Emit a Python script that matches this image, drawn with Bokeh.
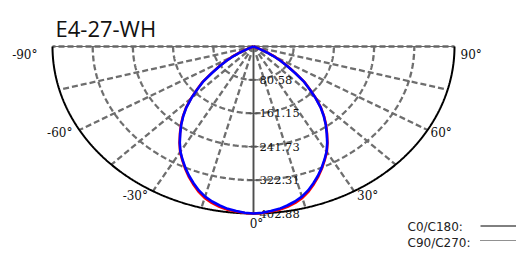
import numpy as np
from bokeh.plotting import figure
from bokeh.models import Range1d
from bokeh.core.properties import value
from bokeh.embed import file_html
from bokeh.resources import INLINE

# ---------------- data ----------------
title_text = "E4-27-WH"
angles = [0, 2.5, 5, 7.5, 10, 12.5, 15, 17.5, 20, 22.5, 25, 27.5, 30, 32.5, 35, 37.5,
          40, 42.5, 45, 47.5, 50, 52.5, 55, 57.5, 60, 62.5, 65, 67.5, 70, 75, 80, 85, 90]
c0_c180 = [402.88, 401.5, 398.5, 395.0, 389.5, 383.0, 374.8, 364.0, 351.0, 337.5,
           323.0, 308.0, 293.0, 275.0, 256.0, 238.0, 219.0, 199.0, 176.0, 152.0,
           132.0, 105.0, 83.0, 64.0, 46.0, 28.0, 8.0, 0.0, 0.0, 0.0, 0.0, 0.0, 0.0]
c90_c270 = [402.88, 402.0, 399.5, 397.0, 392.5, 386.5, 378.3, 367.0, 353.5, 339.5,
            324.5, 309.0, 294.0, 276.0, 257.0, 239.0, 220.0, 200.0, 177.0, 153.5,
            133.5, 106.5, 84.5, 66.0, 49.0, 31.0, 11.0, 0.0, 0.0, 0.0, 0.0, 0.0, 0.0]
ring_values = [80.58, 161.15, 241.73, 322.31, 402.88]
ring_labels = ["80.58", "161.15", "241.73", "322.31", "402.88"]
angle_ticks = [-90, -60, -30, 0, 30, 60, 90]
angle_labels = ["-90°", "-60°", "-30°", "0°", "30°", "60°", "90°"]
grid_angles = [-90, -75, -60, -45, -30, -15, 0, 15, 30, 45, 60, 75, 90]
legend_names = ["C0/C180:", "C90/C270:"]

# ---------------- layout / style ----------------
W, H = 516, 253
CX, CY = 253.0, 46.0        # centre of the diagram, canvas px
RX, RY = 201.0, 167.0       # outer radius in px (horizontal / vertical)
RMAX = ring_values[-1]
sx = RX / RMAX
sy = RY / RMAX

def to_data(px, py):
    return (px - CX) / sx, (CY - py) / sy

def polar(r, deg):
    t = np.radians(np.asarray(deg, dtype=float))
    r = np.asarray(r, dtype=float)
    return r * np.sin(t), -r * np.cos(t)

p = figure(width=W, height=H, output_backend="svg", toolbar_location=None,
           x_range=Range1d(-CX / sx, (W - CX) / sx),
           y_range=Range1d(-(H - CY) / sy, CY / sy),
           min_border=0, outline_line_color=None,
           x_axis_type=None, y_axis_type=None)
p.grid.visible = False
p.background_fill_color = "white"
p.border_fill_color = "white"

GRAY = "#6e6e6e"
SERIF = value("DejaVu Serif")

# rings (dashed)
th = np.linspace(-90, 90, 721)
rx_list, ry_list = [], []
for rv in ring_values[:-1]:
    x, y = polar(np.full_like(th, rv), th)
    rx_list.append(list(x)); ry_list.append(list(y))
p.multi_line(rx_list, ry_list, line_color=GRAY, line_width=2.3, line_dash="6 3")

# radial spokes
sp_x, sp_y = [], []
for a in grid_angles:
    if a == 0:
        continue
    x, y = polar([0, RMAX], [a, a])
    sp_x.append(list(x)); sp_y.append(list(y))
p.multi_line(sp_x, sp_y, line_color=GRAY, line_width=2.3, line_dash="6 3")

# top axis line and 0° axis line
x, y = polar([RMAX, RMAX], [-90, 90])
p.line(list(x), list(y), line_color="#666666", line_width=1)
x, y = polar([0, RMAX], [0, 0])
p.line(list(x), list(y), line_color="#777777", line_width=2.2)
p.line(list(x), list(y), line_color="#333333", line_width=0.6)

# ring ticks on the 0° axis
tick_half = 5 / sx
p.segment(x0=[-tick_half] * len(ring_values), x1=[tick_half] * len(ring_values),
          y0=[-v for v in ring_values], y1=[-v for v in ring_values],
          line_color="#555555", line_width=1.2)

# outer arc
x, y = polar(np.full_like(th, RMAX), th)
p.line(list(x), list(y), line_color="black", line_width=2)

# ring labels
lx = [6 / sx] * len(ring_values)
ly = [-v for v in ring_values]
p.text(lx, ly, text=ring_labels, text_font=SERIF, text_font_size="11.5px",
       text_color="#111111", text_baseline="middle", text_align="left")

# angle labels
lab_dx = [-15, -7, -5, 3, 3, 3, 6]
lab_dy = [8, 3, 5, 10, 5, 3, 8]
ax_pts, ay_pts = polar([RMAX] * len(angle_ticks), angle_ticks)
for i, (lab, a) in enumerate(zip(angle_labels, angle_ticks)):
    align = "right" if a < 0 else ("center" if a == 0 else "left")
    px = CX + ax_pts[i] * sx + lab_dx[i]
    py = CY - ay_pts[i] * sy + lab_dy[i]
    dx, dy = to_data(px, py)
    p.text([dx], [dy], text=[lab], text_font=SERIF, text_font_size="12px",
           text_color="#111111", text_baseline="middle", text_align=align)

# curves
def full_curve(vals):
    th_full = [-a for a in angles[::-1]] + angles[1:]
    r_full = vals[::-1] + vals[1:]
    return polar(r_full, th_full)

x, y = full_curve(c90_c270)
p.line(list(x), list(y), line_color="#ff0000", line_width=2.6, line_join="round")
x, y = full_curve(c0_c180)
p.line(list(x), list(y), line_color="#0000ff", line_width=2.6, line_join="round")

# title
tx, ty = to_data(55, 27)
p.text([tx], [ty], text=[title_text], text_font=value("Open Sans"),
       text_font_size="22px", text_color="#111111",
       text_baseline="alphabetic", text_align="left")

# legend
leg_y_text = [226, 242]
leg_y_line = [225.5, 240]
for i, name in enumerate(legend_names):
    tx, ty = to_data(407, leg_y_text[i])
    p.text([tx], [ty], text=[name], text_font=value("DejaVu Sans"),
           text_font_size="12px", text_color="#222222",
           text_baseline="middle", text_align="left")
    x0, yl = to_data(480, leg_y_line[i])
    x1, _ = to_data(516, leg_y_line[i])
    if i == 0:
        p.line([x0, x1], [yl, yl], line_color="black", line_width=1)
    else:
        p.line([x0, x1], [yl, yl], line_color="#222222", line_width=1, line_dash="1 1")

open("out.html", "w").write(file_html(p, INLINE))
